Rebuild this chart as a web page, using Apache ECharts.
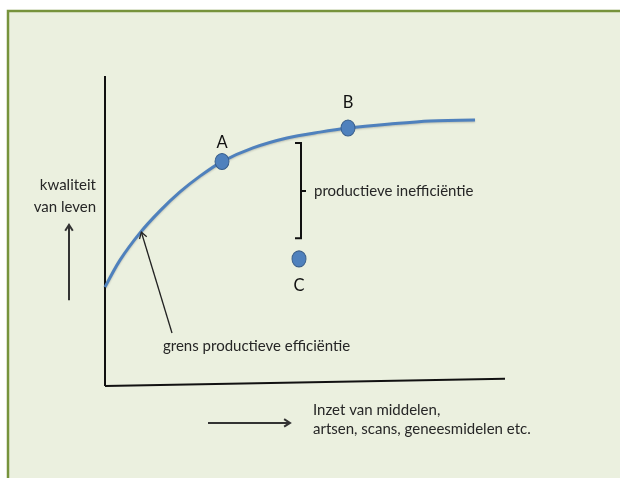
<!DOCTYPE html>
<html>
<head>
<meta charset="utf-8">
<script src="https://cdn.jsdelivr.net/npm/echarts@6/dist/echarts.min.js"></script>
<style>html,body{margin:0;padding:0;background:#fff;overflow:hidden;}#c{width:620px;height:478px;}</style>
</head>
<body>
<div id="c"></div>
<script>
// Frontier curve (inzet van middelen vs kwaliteit van leven), arbitrary units 0-100
const curveX = [0, 3.75, 8.75, 13.75, 18.75, 23.75, 29.25, 37, 45.5, 53.75, 60.75, 71.25, 81.25, 92.5];
const curveY = [31.9, 40.6, 49.4, 56.5, 62.6, 67.7, 72.4, 76.8, 80.0, 81.9, 83.2, 84.5, 85.5, 85.8];
// Named points
const pointNames = ['A', 'B', 'C'];
const pointX = [29.25, 60.75, 48.5];
const pointY = [72.4, 83.2, 41.0];
// Axis line ends
const yAxisLine = [[0, 0], [0, 100]];
const xAxisLine = [[0, 0], [100, 2.3]];

const FONT = 'Lato, "Open Sans", sans-serif';
const TXT = '#262626';
const FS = 15;

const chart = echarts.init(document.getElementById('c'), null, {renderer: 'canvas'});

function arrow(api, a, b, color, w) {
  const p0 = api.coord(a), p1 = api.coord(b);
  const ang = Math.atan2(p1[1] - p0[1], p1[0] - p0[0]);
  const L = 7, h = Math.PI / 5.5;
  const l1 = [p1[0] - L * Math.cos(ang - h), p1[1] - L * Math.sin(ang - h)];
  const l2 = [p1[0] - L * Math.cos(ang + h), p1[1] - L * Math.sin(ang + h)];
  return [
    {type: 'line', shape: {x1: p0[0], y1: p0[1], x2: p1[0], y2: p1[1]}, style: {stroke: color, lineWidth: w}},
    {type: 'polyline', shape: {points: [l1, p1, l2]}, style: {stroke: color, lineWidth: w, fill: null}}
  ];
}
function txt(api, pos, text, align, size) {
  const p = api.coord(pos);
  return {type: 'text', style: {text: text, x: p[0], y: p[1], textAlign: align, textVerticalAlign: 'middle',
    font: (size || FS) + 'px ' + FONT, fill: TXT}};
}

const labelDist = {A: 2, B: 8, C: 10};

const option = {
  animation: false,
  backgroundColor: '#ffffff',
  graphic: [{
    type: 'rect', z: -10, silent: true,
    shape: {x: 8, y: 11, width: 900, height: 700},
    style: {fill: '#EBF0DF', stroke: '#77933C', lineWidth: 2.5}
  }],
  grid: {left: 105, top: 76, width: 400, height: 310},
  xAxis: {type: 'value', min: 0, max: 100, show: false},
  yAxis: {type: 'value', min: 0, max: 100, show: false},
  series: [
    {type: 'line', data: yAxisLine, symbol: 'none', lineStyle: {color: '#111', width: 2}, z: 3},
    {type: 'line', data: xAxisLine, symbol: 'none', lineStyle: {color: '#111', width: 2}, z: 3},
    {
      type: 'line', data: curveX.map((x, i) => [x, curveY[i]]), smooth: 0.3, symbol: 'none',
      lineStyle: {color: '#4F81BD', width: 3, shadowColor: 'rgba(0,0,0,0.2)', shadowBlur: 2, shadowOffsetY: 1}, z: 4
    },
    {
      type: 'scatter', z: 6,
      data: pointNames.map((n, i) => ({name: n, value: [pointX[i], pointY[i]],
        label: {position: n === 'C' ? 'bottom' : 'top', distance: labelDist[n]}})),
      symbol: 'circle', symbolSize: [14, 16],
      itemStyle: {color: '#4F81BD', borderColor: '#385D8A', borderWidth: 1, opacity: 1},
      label: {show: true, formatter: '{b}', color: '#111', fontFamily: FONT, fontSize: 16.5}
    },
    {
      type: 'custom', z: 5, data: [0], clip: false,
      renderItem: function (params, api) {
        const ch = [];
        // bracket
        const bt = api.coord([49, 78.4]), bb = api.coord([49, 47.7]);
        const bm = api.coord([49, 62.9]);
        ch.push({type: 'polyline', shape: {points: [[bt[0] - 6, bt[1]], bt, bb, [bb[0] - 6, bb[1]]]},
          style: {stroke: '#111', lineWidth: 2, fill: null}});
        ch.push({type: 'line', shape: {x1: bm[0], y1: bm[1], x2: bm[0] + 5, y2: bm[1]}, style: {stroke: '#111', lineWidth: 2}});
        // arrows
        arrow(api, [16.75, 17.1], [9.1, 49.6], '#222', 1.3).forEach(c => ch.push(c));
        arrow(api, [-9, 27.7], [-9, 52], '#333', 2).forEach(c => ch.push(c));
        arrow(api, [25.75, -11.9], [46.25, -11.9], '#333', 2).forEach(c => ch.push(c));
        // texts
        ch.push(txt(api, [-2.25, 64.8], 'kwaliteit', 'right'));
        ch.push(txt(api, [-2.25, 57.7], 'van leven', 'right'));
        ch.push(txt(api, [52.25, 62.9], 'productieve inefficiëntie', 'left'));
        ch.push(txt(api, [14.5, 12.9], 'grens productieve efficiëntie', 'left'));
        ch.push(txt(api, [52, -7.7], 'Inzet van middelen,', 'left'));
        ch.push(txt(api, [52, -13.9], 'artsen, scans, geneesmidelen etc.', 'left'));
        return {type: 'group', children: ch};
      }
    }
  ]
};
chart.setOption(option);
</script>
</body>
</html>
